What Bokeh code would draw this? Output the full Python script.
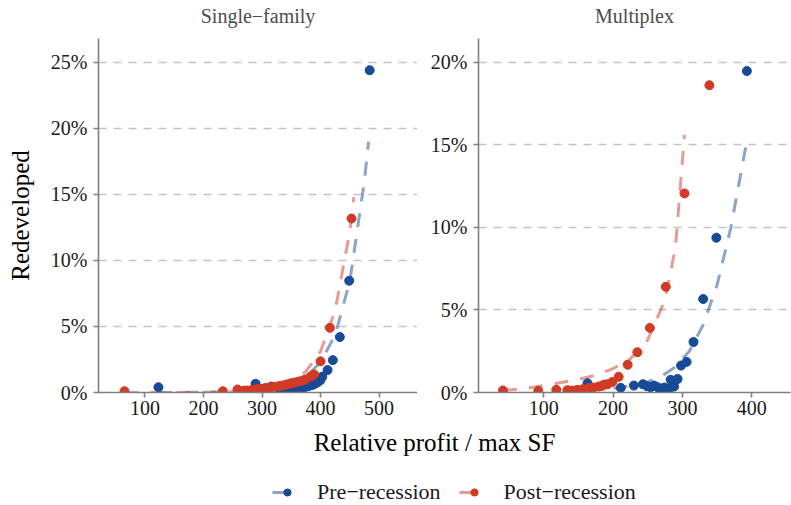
from bokeh.plotting import figure
from bokeh.layouts import column, row
from bokeh.models import Range1d, FixedTicker, Legend, LegendItem, Label
from bokeh.embed import file_html
from bokeh.resources import INLINE

FONT = "Liberation Serif"
BLUE = "#174a97"
RED = "#d03a27"

panel_titles = ["Single\u2212family", "Multiplex"]
legend_labels = ["Pre\u2212recession", "Post\u2212recession"]
x_title = "Relative profit / max SF"
y_title = "Redeveloped"

# ---- Single-family: observed points (x = relative profit, y = % redeveloped)
sf_pre_x = [123, 289, 316, 330, 338, 345, 350, 355, 360, 364, 368, 372, 376, 380,
            384, 388, 392, 396, 400, 403, 412, 421, 433, 449, 484]
sf_pre_y = [0.40, 0.66, 0.45, 0.15, 0.20, 0.22, 0.25, 0.28, 0.30, 0.35, 0.38, 0.40,
            0.45, 0.50, 0.55, 0.60, 0.70, 0.80, 0.95, 1.20, 1.70, 2.45, 4.20, 8.46, 24.4]
sf_post_x = [65, 233, 258, 265, 271, 277, 283, 289, 294, 300, 306, 312, 317, 323,
             329, 334, 340, 346, 351, 357, 363, 369, 374, 383, 389, 400, 416, 453]
sf_post_y = [0.10, 0.10, 0.23, 0.12, 0.15, 0.14, 0.20, 0.22, 0.28, 0.27, 0.35, 0.36,
             0.40, 0.44, 0.48, 0.52, 0.58, 0.65, 0.71, 0.76, 0.83, 0.90, 0.98, 1.21,
             1.36, 2.36, 4.90, 13.17]

# ---- Single-family: fitted curves
sf_pre_fit_x = [123, 150, 200, 250, 300, 325, 350, 375, 400, 425, 450, 475, 482]
sf_pre_fit_y = [0.002, 0.004, 0.013, 0.046, 0.17, 0.33, 0.62, 1.19, 2.28, 4.36, 8.4, 16.0, 19.0]
sf_post_fit_x = [65, 100, 150, 200, 250, 300, 325, 350, 375, 400, 425, 450, 457]
sf_post_fit_y = [0.0004, 0.001, 0.004, 0.014, 0.055, 0.21, 0.41, 0.81, 1.6, 3.1, 6.2, 12.2, 14.8]

# ---- Multiplex: observed points
mf_pre_x = [163, 211, 230, 243, 249, 254, 259, 264, 269, 274, 279, 283, 283, 288,
            293, 298, 306, 316, 330, 349, 393]
mf_pre_y = [0.56, 0.28, 0.42, 0.50, 0.38, 0.32, 0.42, 0.32, 0.24, 0.30, 0.20, 0.32,
            0.77, 0.36, 0.82, 1.63, 1.85, 3.06, 5.66, 9.37, 19.46]
mf_post_x = [41, 92, 118, 134, 140, 148, 156, 165, 172, 179, 184, 187, 192, 199,
             208, 221, 235, 253, 276, 303, 339]
mf_post_y = [0.12, 0.10, 0.16, 0.14, 0.12, 0.16, 0.20, 0.28, 0.30, 0.36, 0.40, 0.48,
             0.50, 0.64, 0.95, 1.68, 2.44, 3.91, 6.40, 12.05, 18.60]

# ---- Multiplex: fitted curves
mf_pre_fit_x = [163, 190, 210, 230, 250, 270, 290, 310, 330, 350, 370, 392]
mf_pre_fit_y = [0.15, 0.22, 0.30, 0.45, 0.65, 1.0, 1.55, 2.5, 4.1, 6.5, 10.0, 15.0]
mf_post_fit_x = [41, 75, 100, 125, 150, 175, 200, 225, 250, 275, 290, 303]
mf_post_fit_y = [0.12, 0.25, 0.42, 0.60, 0.80, 1.05, 1.45, 2.05, 3.2, 5.6, 8.8, 15.6]

sf_x_ticks = [100, 200, 300, 400, 500]
sf_y_ticks = [0, 5, 10, 15, 20, 25]
mf_x_ticks = [100, 200, 300, 400]
mf_y_ticks = [0, 5, 10, 15, 20]

TOP_H = 38
FRAME_H = 354
AX_H = 33
PANEL_H = FRAME_H + AX_H
BOT_H = 505 - TOP_H - PANEL_H


def make_panel(width, border_left, border_right, xr, yr, xticks, yticks,
               pre, post, pre_fit, post_fit, ylabel=None):
    p = figure(width=width, height=PANEL_H, output_backend="svg", toolbar_location=None,
               x_range=Range1d(*xr), y_range=Range1d(*yr),
               min_border_left=border_left, min_border_right=border_right,
               min_border_top=0, min_border_bottom=AX_H)
    p.outline_line_color = None
    p.background_fill_color = "white"
    p.border_fill_color = "white"

    p.xgrid.visible = False
    p.ygrid.grid_line_color = "#c4c4c4"
    p.ygrid.grid_line_width = 1.6
    p.ygrid.grid_line_dash = "8 7"

    for ax in (p.xaxis[0], p.yaxis[0]):
        ax.axis_line_color = "#7f7f7f"
        ax.axis_line_width = 1.6
        ax.major_tick_line_color = "#7f7f7f"
        ax.major_tick_line_width = 1.6
        ax.major_tick_out = 5
        ax.major_tick_in = 0
        ax.minor_tick_line_color = None
        ax.major_label_text_font = FONT
        ax.major_label_text_font_size = "20px"
        ax.major_label_text_color = "#1a1a1a"
    p.xaxis.ticker = FixedTicker(ticks=xticks)
    p.yaxis.ticker = FixedTicker(ticks=yticks)
    p.xaxis.major_label_standoff = 3
    p.yaxis.major_label_standoff = 6
    p.yaxis.major_label_overrides = {t: f"{t}%" for t in yticks}
    if ylabel:
        p.yaxis.axis_label = ylabel
        p.yaxis.axis_label_text_font = FONT
        p.yaxis.axis_label_text_font_size = "25px"
        p.yaxis.axis_label_text_font_style = "normal"
        p.yaxis.axis_label_text_color = "black"
        p.yaxis.axis_label_standoff = 14

    p.line(pre_fit[0], pre_fit[1], line_color=BLUE, line_alpha=0.5, line_width=3,
           line_dash="14 12")
    p.line(post_fit[0], post_fit[1], line_color=RED, line_alpha=0.5, line_width=3,
           line_dash="14 12")
    p.scatter(pre[0], pre[1], size=9, color=BLUE)
    p.scatter(post[0], post[1], size=9, color=RED)
    return p


p1 = make_panel(417, 98, 0, (20.6, 565.7), (0, 26.8),
                sf_x_ticks, sf_y_ticks, (sf_pre_x, sf_pre_y), (sf_post_x, sf_post_y),
                (sf_pre_fit_x, sf_pre_fit_y), (sf_post_fit_x, sf_post_fit_y),
                ylabel=y_title)
p2 = make_panel(374, 61, 1, (5.7, 456), (0, 21.43),
                mf_x_ticks, mf_y_ticks, (mf_pre_x, mf_pre_y), (mf_post_x, mf_post_y),
                (mf_pre_fit_x, mf_pre_fit_y), (mf_post_fit_x, mf_post_fit_y))

# top strip: facet titles
p0 = figure(width=791, height=TOP_H, output_backend="svg", toolbar_location=None,
            x_range=Range1d(0, 791), y_range=Range1d(0, TOP_H),
            x_axis_location=None, y_axis_location=None, min_border=0)
p0.outline_line_color = None
p0.grid.visible = False
for cx, t in zip([257.5, 634], panel_titles):
    p0.add_layout(Label(x=cx, y=TOP_H - 15, text=t, text_align="center",
                        text_baseline="middle", text_font=FONT, text_font_size="20px",
                        text_color="#4d4d4d"))

# bottom strip: shared x-axis title and legend
p3 = figure(width=791, height=BOT_H, output_backend="svg", toolbar_location=None,
            x_range=Range1d(0, 791), y_range=Range1d(0, BOT_H),
            x_axis_location=None, y_axis_location=None, min_border=0)
p3.outline_line_color = None
p3.grid.visible = False
p3.add_layout(Label(x=434, y=BOT_H - 17, text=x_title, text_align="center",
                    text_baseline="middle", text_font=FONT, text_font_size="25px",
                    text_color="black"))
# legend-only renderers (placed outside the visible range)
l1 = p3.line([-60, -50], [-60, -60], line_color=BLUE, line_alpha=0.5, line_width=3,
             line_dash="15 15")
s1 = p3.scatter([-55], [-60], size=9, color=BLUE)
l2 = p3.line([-60, -50], [-60, -60], line_color=RED, line_alpha=0.5, line_width=3,
             line_dash="15 15")
s2 = p3.scatter([-55], [-60], size=9, color=RED)
legend = Legend(items=[LegendItem(label=legend_labels[0], renderers=[l1, s1]),
                       LegendItem(label=legend_labels[1], renderers=[l2, s2])],
                orientation="horizontal", location=(272, 0), glyph_width=30,
                glyph_height=18, label_height=18, label_standoff=15, spacing=18,
                padding=0, margin=0,
                border_line_color=None, background_fill_alpha=0,
                label_text_font=FONT, label_text_font_size="22px",
                label_text_color="#1a1a1a")
p3.add_layout(legend)

layout = column(p0, row(p1, p2), p3)
open("out.html", "w").write(file_html(layout, INLINE))
